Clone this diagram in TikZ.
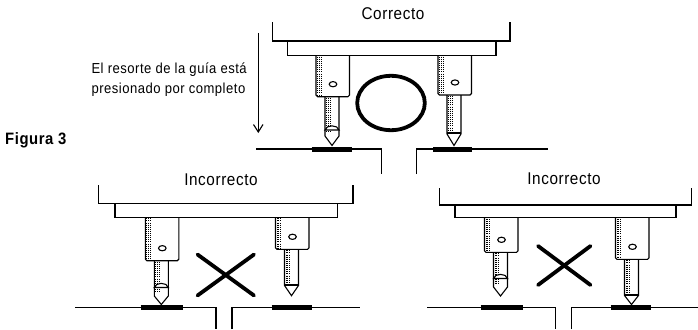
\documentclass[tikz,border=0pt]{standalone}
\usepackage{fontspec}
\setmainfont[FakeStretch=0.9,LetterSpace=3.5]{Liberation Sans}
\usetikzlibrary{arrows}

\tikzset{
    edgeline/.style={line width=1.1pt},
    padline/.style={line width=5pt},
    crossline/.style={line width=3.8pt, line cap=round},
    stipple/.style={line width=0.9pt, dash pattern=on 0.9pt off 1.2pt},
    heading/.style={font=\fontsize{17}{19}\selectfont},
    notetext/.style={font=\fontsize{14.5}{17}\selectfont, anchor=west}
}

% #1 left of body, #2 top, #3 body bottom, #4 cone shoulder, #5 tip
\newcommand{\guidepin}[5]{
    \draw[edgeline, rounded corners=1.5pt] (#1,#2)--(#1,#3)--(#1+33.5,#3)--(#1+33.5,#2);
    \foreach \dx in {1.5,3.3,5.1}{
        \draw[stipple] (#1+\dx,#2+1)--(#1+\dx,#3-1);
    }
    \draw[edgeline] (#1+17,#3-12.5) ellipse (3.8 and 2.6);
    \draw[edgeline] (#1+9,#3)--(#1+9,#4)--(#1+16,#5)--(#1+23,#4)--(#1+23,#3);
    \foreach \dx in {10.5,12.3,14.1}{
        \draw[stipple] (#1+\dx,#3+1)--(#1+\dx,#4-3);
    }
}
% #1 left of body, #2 level of the line under the dome
\newcommand{\pindome}[2]{
    \draw[edgeline, fill=white] (#1+9,#2)..controls (#1+10,#2-5.5) and (#1+22,#2-5.5)..(#1+23,#2)--cycle;
}
% #1 left of body, #2 level of the flat end of the shaft
\newcommand{\pinend}[2]{
    \draw[edgeline] (#1+9,#2)--(#1+23,#2);
}
% #1 frame left, #2 frame right, #3 frame top, #4 frame bottom, #5 plate left, #6 plate right, #7 plate bottom
\newcommand{\headframe}[7]{
    \draw[edgeline] (#1,#3)--(#1,#4)--(#2,#4)--(#2,#3);
    \draw[edgeline] (#5,#4)--(#5,#7)--(#6,#7)--(#6,#4);
}
% #1 left end, #2 left corner, #3 right corner, #4 right end, #5 level, #6 bottom
\newcommand{\benchline}[6]{
    \draw[edgeline] (#1,#5)--(#2,#5)--(#2,#6);
    \draw[edgeline] (#3,#6)--(#3,#5)--(#4,#5);
}

\begin{document}
\begin{tikzpicture}[x=1pt,y=-1pt]
    \useasboundingbox (0,0) rectangle (698,329);

    % top
    \node[heading] (correcto) at (393,14) {Correcto};
    \headframe{272.7}{510}{22.5}{41}{287.7}{496}{55.7}
    \guidepin{316}{55.7}{96.7}{136}{145.5}
    \pindome{316}{130}
    \guidepin{438}{55.7}{95}{134}{145.5}
    \pinend{438}{133}
    \benchline{256}{381.7}{416.7}{548}{149}{174}
    \draw[padline] (311.7,149)--(351.7,149);
    \draw[padline] (433,149)--(471.7,149);
    \draw[line width=3.8pt] (391,103) ellipse (33.8 and 27.2);

    % note at the left
    \node[notetext] (resorte) at (88,70) {El resorte de la guía está};
    \node[notetext] (presionado) at (88,90) {presionado por completo};
    \coordinate (arrowtop) at (258.3,33);
    \coordinate (arrowtip) at (258.3,132);
    \draw[line width=0.8pt] (arrowtop)--(arrowtip);
    \draw[edgeline] (253.5,124.5)--(arrowtip)--(263,124.5);
    \node[notetext, font=\fontsize{16.5}{19}\selectfont\bfseries] (figura) at (1.7,140) {Figura 3};

    % bottom left
    \node[heading] (incorrectoa) at (221,180) {Incorrecto};
    \headframe{98.3}{353}{185}{203.3}{115}{337.7}{217.3}
    \guidepin{145.3}{217.3}{260.7}{296}{304.5}
    \pindome{145.3}{287.5}
    \guidepin{275.5}{217.3}{249.3}{285.5}{295.7}
    \pinend{275.5}{285}
    \benchline{75}{216}{232}{360}{307.7}{329}
    \draw[padline] (140.7,307.7)--(183.3,307.7);
    \draw[padline] (271.7,307.7)--(311.7,307.7);
    \draw[crossline] (197.5,254.5)--(254,295.5);
    \draw[crossline] (254,254.5)--(197.5,295.5);

    % bottom right
    \node[heading] (incorrectob) at (564,179) {Incorrecto};
    \headframe{439.3}{691.7}{188.3}{205}{455}{676}{217.7}
    \guidepin{484.5}{217.7}{252.3}{287}{296}
    \pindome{484.5}{278.5}
    \guidepin{615.5}{217.7}{259.3}{295.5}{304.5}
    \pinend{615.5}{295}
    \benchline{427.3}{555.7}{571.7}{698}{307.7}{329}
    \draw[padline] (480.7,307.7)--(523.3,307.7);
    \draw[padline] (610.7,307.7)--(650.7,307.7);
    \draw[crossline] (538,246)--(590.5,285);
    \draw[crossline] (590.5,246)--(538,285);
\end{tikzpicture}
\end{document}
